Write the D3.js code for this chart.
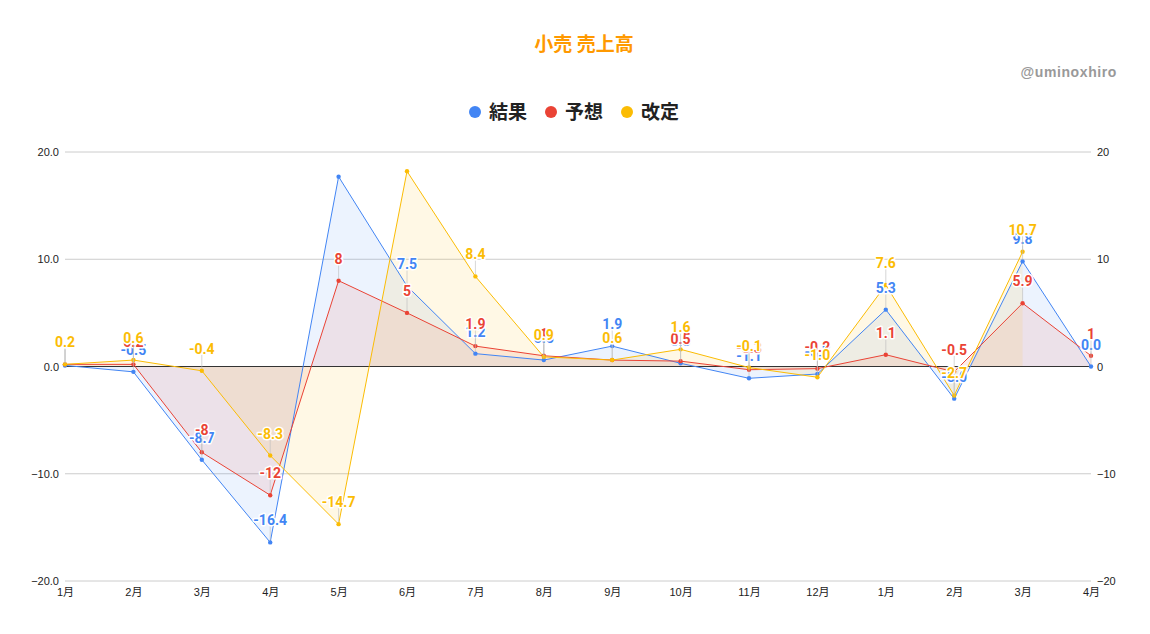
<!DOCTYPE html>
<html><head><meta charset="utf-8">
<script src="https://cdn.jsdelivr.net/npm/d3@7"></script>
<style>
body{margin:0;background:#fff;}
svg{display:block;}
</style></head><body>
<svg id="c" width="1150" height="634"></svg>
<script>
const categories = ["1月","2月","3月","4月","5月","6月","7月","8月","9月","10月","11月","12月","1月","2月","3月","4月"];
const kekka  = [0.1, -0.5, -8.7, -16.4, 17.7, 7.5, 1.2, 0.6, 1.9, 0.3, -1.1, -0.7, 5.3, -3.0, 9.8, 0.0];
const yosou  = [0.2, 0.2, -8, -12, 8, 5, 1.9, 1, 0.6, 0.5, -0.3, -0.2, 1.1, -0.5, 5.9, 1];
const kaitei = [0.2, 0.6, -0.4, -8.3, -14.7, 18.2, 8.4, 0.9, 0.6, 1.6, -0.1, -1.0, 7.6, -2.7, 10.7, null];
const yTicks = [-20, -10, 0, 10, 20];
const seriesNames = ["結果","予想","改定"];
const seriesColors = ["#4285F4","#EA4335","#FBBC04"];

(function(){
const series = [
  {name: seriesNames[0], color: seriesColors[0], values: kekka, fmt: d => d.toFixed(1)},
  {name: seriesNames[1], color: seriesColors[1], values: yosou, fmt: d => String(d)},
  {name: seriesNames[2], color: seriesColors[2], values: kaitei, fmt: d => d.toFixed(1)}
];

const svg = d3.select("#c");
const mL = 65, mR = 1091, mT = 152, mB = 581;
const x = d3.scalePoint().domain(d3.range(categories.length)).range([mL, mR]);
const y = d3.scaleLinear().domain([-20, 20]).range([mB, mT]);

// title
svg.append("text").attr("x", 584).attr("y", 51).attr("text-anchor","middle")
  .attr("font-family","'Noto Sans CJK JP', sans-serif").attr("font-weight","bold")
  .attr("font-size",19).attr("fill","#FF9900").text("小売 売上高");
svg.append("text").attr("x", 1117).attr("y", 77).attr("text-anchor","end")
  .attr("font-family","Arial, 'Liberation Sans', sans-serif").attr("font-weight","bold")
  .attr("font-size",14).attr("letter-spacing",0.6).attr("fill","#999").text("@uminoxhiro");

// legend
const legX = [475, 551, 627];
series.forEach((s,i)=>{
  const g = svg.append("g");
  g.append("circle").attr("cx", legX[i]).attr("cy", 112).attr("r", 6).attr("fill", s.color);
  g.append("text").attr("x", legX[i]+14).attr("y", 119)
    .attr("font-family","'Noto Sans CJK JP', sans-serif").attr("font-weight","bold")
    .attr("font-size",19).attr("fill","#222").text(s.name);
});

// gridlines
const grid = svg.append("g");
yTicks.forEach(t=>{
  if (t === 0) return;
  grid.append("line").attr("x1",mL).attr("x2",mR).attr("y1",y(t)).attr("y2",y(t))
    .attr("stroke","#cccccc").attr("stroke-width",1);
});

// axes
const leftAxis = d3.axisLeft(y).tickValues(yTicks).tickFormat(d3.format(".1f")).tickSize(0).tickPadding(6);
const la = svg.append("g").attr("transform",`translate(${mL},0)`).call(leftAxis);
la.select(".domain").remove();
la.selectAll("text").attr("font-family","Arial, 'Liberation Sans', sans-serif").attr("font-size",11).attr("fill","#222");
const rightAxis = d3.axisRight(y).tickValues(yTicks).tickFormat(d3.format("d")).tickSize(0).tickPadding(6);
const ra = svg.append("g").attr("transform",`translate(${mR},0)`).call(rightAxis);
ra.select(".domain").remove();
ra.selectAll("text").attr("font-family","Arial, 'Liberation Sans', sans-serif").attr("font-size",11).attr("fill","#222");

const xAxis = d3.axisBottom(x).tickFormat(i => categories[i]).tickSize(0).tickPadding(7);
const xa = svg.append("g").attr("transform",`translate(0,${mB})`).call(xAxis);
xa.select(".domain").remove();
xa.selectAll("text").attr("font-family","Arial, 'Liberation Sans', 'Noto Sans CJK JP', sans-serif").attr("font-size",11).attr("fill","#222");

// areas
const area = d3.area().defined(d => d.v !== null).x(d => x(d.i)).y0(y(0)).y1(d => y(d.v));
const line = d3.line().defined(d => d.v !== null).x(d => x(d.i)).y(d => y(d.v));
series.forEach(s=>{
  const data = s.values.map((v,i)=>({i, v}));
  svg.append("path").datum(data).attr("d", area).attr("fill", s.color).attr("fill-opacity", 0.1);
});
svg.append("line").attr("x1",mL).attr("x2",mR).attr("y1",y(0)).attr("y2",y(0))
  .attr("stroke","#333").attr("stroke-width",1);
series.forEach(s=>{
  const data = s.values.map((v,i)=>({i, v}));
  svg.append("path").datum(data).attr("d", line).attr("fill","none").attr("stroke", s.color).attr("stroke-width",1);
  svg.append("g").selectAll("circle").data(data.filter(d=>d.v!==null)).join("circle")
    .attr("cx", d=>x(d.i)).attr("cy", d=>y(d.v)).attr("r", 2.2).attr("fill", s.color);
});

// labels with leader lines
series.forEach(s=>{
  const g = svg.append("g");
  s.values.forEach((v,i)=>{
    if (v === null) return;
    const px = x(i), py = y(v);
    const ly = py - 22;
    if (ly - 8 < mT) return;
    g.append("line").attr("x1",px).attr("x2",px).attr("y1",ly+6).attr("y2",py-2)
      .attr("stroke","#bbb").attr("stroke-opacity",0.6).attr("stroke-width",1);
    g.append("text").attr("x",px).attr("y",ly+5).attr("text-anchor","middle")
      .attr("font-family","Roboto, Arial, sans-serif").attr("font-weight","bold").attr("font-size",14)
      .attr("fill", s.color).attr("stroke","#fff").attr("stroke-width",3).attr("paint-order","stroke")
      .attr("stroke-linejoin","round").text(s.fmt(v));
  });
});
})();
</script></body></html>
